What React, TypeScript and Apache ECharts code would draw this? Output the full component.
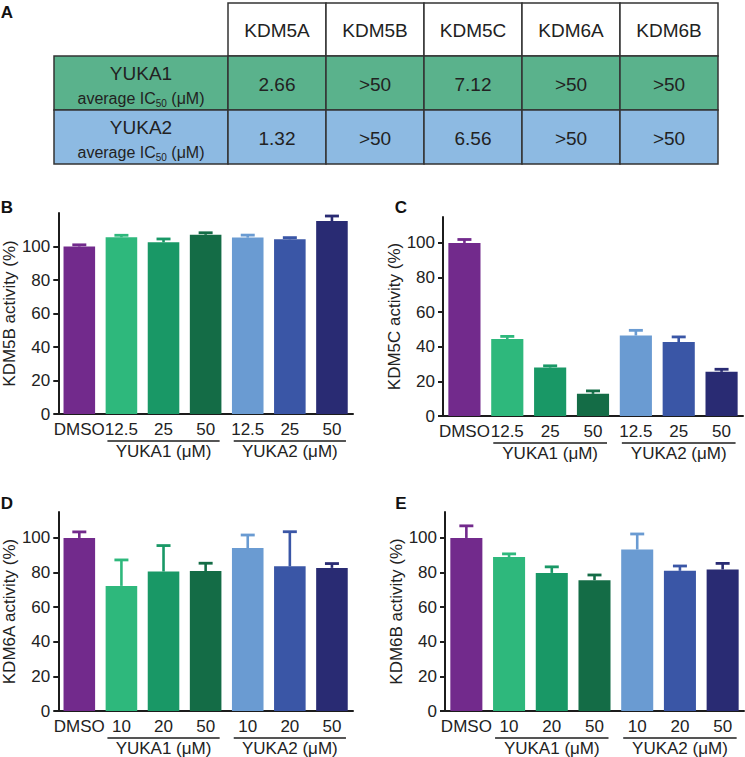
import React, { useEffect, useRef } from "react";
import * as echarts from "echarts";

// ---------- data ----------
const tableCols = ["KDM5A", "KDM5B", "KDM5C", "KDM6A", "KDM6B"];
const tableRows = ["YUKA1", "YUKA2"];
const yuka1IC50 = ["2.66", ">50", "7.12", ">50", ">50"];
const yuka2IC50 = ["1.32", ">50", "6.56", ">50", ">50"];

const catsBC = ["DMSO", "12.5", "25", "50", "12.5", "25", "50"];
const catsDE = ["DMSO", "10", "20", "50", "10", "20", "50"];
const groupNames = ["YUKA1 (μM)", "YUKA2 (μM)"];

const kdm5bMean = [100, 105.5, 102.5, 107, 105.3, 104.3, 115.2];
const kdm5bErr = [1, 1.2, 2, 1.2, 1.5, 1, 3];
const kdm5cMean = [100, 44.5, 28, 12.8, 46.5, 42.7, 25.5];
const kdm5cErr = [2, 1.5, 1, 1.7, 3, 3, 1.5];
const kdm6aMean = [100, 72.3, 80.6, 80.9, 94.2, 83.6, 82.7];
const kdm6aErr = [3.5, 15, 15, 4.5, 7.5, 20, 2.5];
const kdm6bMean = [100, 89, 79.8, 75.6, 93.3, 81, 81.8];
const kdm6bErr = [7, 1.8, 3.5, 3, 9, 2.8, 3.5];

const yTicks = [0, 20, 40, 60, 80, 100];

// ---------- styles ----------
const FONT = "'Liberation Sans', Arial, sans-serif";
const INK = "#1c1c1c";
const TXT = "#222";
const COLORS = ["#722A8C", "#2EB87C", "#199866", "#146C46", "#6A9BD2", "#3A56A6", "#292B73"];
const GREEN = "#5AB28C";
const BLUE = "#8DBAE2";
const FS = 17;

const panels = [
  { letter: "B", name: "KDM5B activity (%)", cats: catsBC, mean: kdm5bMean, err: kdm5bErr, max: 120,
    grid: { left: 53, top: 213, width: 300, height: 201 }, lx: 7, ly: 207 },
  { letter: "C", name: "KDM5C activity (%)", cats: catsBC, mean: kdm5cMean, err: kdm5cErr, max: 115,
    grid: { left: 443, top: 217, width: 300, height: 199 }, lx: 401, ly: 207 },
  { letter: "D", name: "KDM6A activity (%)", cats: catsDE, mean: kdm6aMean, err: kdm6aErr, max: 115,
    grid: { left: 53, top: 512, width: 300, height: 199 }, lx: 7, ly: 503 },
  { letter: "E", name: "KDM6B activity (%)", cats: catsDE, mean: kdm6bMean, err: kdm6bErr, max: 115,
    grid: { left: 445, top: 512, width: 299, height: 199 }, lx: 401, ly: 503 },
];

function buildOption() {
  const grid: any[] = [];
  const xAxis: any[] = [];
  const yAxis: any[] = [];
  const series: any[] = [];
  panels.forEach((p, i) => {
    grid.push({ ...p.grid, containLabel: false });
    xAxis.push({
      type: "category",
      gridIndex: i,
      data: p.cats,
      axisLine: { lineStyle: { color: INK, width: 2 } },
      axisTick: { alignWithLabel: true, length: 5, lineStyle: { color: INK, width: 2 } },
      axisLabel: { interval: 0, fontSize: FS, color: TXT, fontFamily: FONT, margin: 7, hideOverlap: false },
      splitLine: { show: false },
    });
    yAxis.push({
      type: "value",
      gridIndex: i,
      min: 0,
      max: p.max,
      interval: 20,
      axisLine: { show: true, lineStyle: { color: INK, width: 2 } },
      axisTick: { show: true, length: 5, customValues: yTicks, lineStyle: { color: INK, width: 2 } },
      axisLabel: { customValues: yTicks, fontSize: FS, color: TXT, fontFamily: FONT, margin: 8 },
      splitLine: { show: false },
      name: p.name,
      nameLocation: "middle",
      nameGap: 36,
      nameTextStyle: { fontSize: FS, color: TXT, fontFamily: FONT },
    });
    series.push({
      type: "bar",
      xAxisIndex: i,
      yAxisIndex: i,
      barWidth: "75%",
      data: p.mean.map((v, j) => ({ value: v, itemStyle: { color: COLORS[j] } })),
      z: 2,
    });
    series.push({
      type: "custom",
      xAxisIndex: i,
      yAxisIndex: i,
      z: 3,
      encode: { x: 0, y: 1 },
      data: p.mean.map((v, j) => [j, v, p.err[j]]),
      renderItem: (params: any, api: any) => {
        const idx = api.value(0);
        const m = api.value(1);
        const e = api.value(2);
        const b = api.coord([idx, m]);
        const t = api.coord([idx, m + e]);
        const c = COLORS[params.dataIndex];
        const half = 7;
        return {
          type: "group",
          children: [
            { type: "line", shape: { x1: b[0], y1: b[1], x2: t[0], y2: t[1] }, style: { stroke: c, lineWidth: 2.6 } },
            { type: "line", shape: { x1: t[0] - half, y1: t[1], x2: t[0] + half, y2: t[1] }, style: { stroke: c, lineWidth: 2.8 } },
          ],
        };
      },
    });
  });
  return { animation: false, backgroundColor: "#fff", grid, xAxis, yAxis, series };
}

function tableGraphics() {
  const g: any[] = [];
  const x0 = 228, colW = 98, hdrTop = 3, hdrH = 53, rowH = 54, lblX = 54;
  const stroke = "#333";
  const lw = 1.5;
  tableCols.forEach((c, j) => {
    g.push({ type: "rect", shape: { x: x0 + j * colW, y: hdrTop, width: colW, height: hdrH },
      style: { fill: "#fff", stroke, lineWidth: lw } });
    g.push({ type: "text", x: x0 + j * colW + colW / 2, y: hdrTop + hdrH / 2 + 1,
      style: { text: c, fill: TXT, font: `19px ${FONT}`, textAlign: "center", textVerticalAlign: "middle" } });
  });
  const rows = [yuka1IC50, yuka2IC50];
  const fills = [GREEN, BLUE];
  rows.forEach((vals, r) => {
    const y = hdrTop + hdrH + r * rowH;
    g.push({ type: "rect", shape: { x: lblX, y, width: x0 - lblX, height: rowH },
      style: { fill: fills[r], stroke, lineWidth: lw } });
    g.push({ type: "text", x: (lblX + x0) / 2, y: y + 17,
      style: { text: tableRows[r], fill: TXT, font: `19px ${FONT}`, textAlign: "center", textVerticalAlign: "middle" } });
    g.push({ type: "text", x: (lblX + x0) / 2, y: y + 42,
      style: {
        text: "{a|average IC}{s|50}{a| (μM)}",
        fill: TXT, font: `16px ${FONT}`, textAlign: "center", textVerticalAlign: "middle",
        rich: {
          a: { fontSize: 16, fontFamily: FONT, fill: TXT, lineHeight: 20, verticalAlign: "middle" },
          s: { fontSize: 10, fontFamily: FONT, fill: TXT, lineHeight: 12, verticalAlign: "bottom", padding: [3, 0, 0, 0] },
        },
      } });
    vals.forEach((v, j) => {
      g.push({ type: "rect", shape: { x: x0 + j * colW, y, width: colW, height: rowH },
        style: { fill: fills[r], stroke, lineWidth: lw } });
      g.push({ type: "text", x: x0 + j * colW + colW / 2, y: y + rowH / 2 + 1,
        style: { text: v, fill: TXT, font: `19px ${FONT}`, textAlign: "center", textVerticalAlign: "middle" } });
    });
  });
  return g;
}

export default function App() {
  const ref = useRef<HTMLDivElement>(null);
  useEffect(() => {
    if (!ref.current) return;
    const chart = echarts.init(ref.current, null, { renderer: "svg" });
    chart.setOption(buildOption());
    const graphics: any[] = [...tableGraphics()];
    graphics.push({ type: "text", x: 7, y: 12,
      style: { text: "A", fill: "#111", font: `bold 17px ${FONT}`, textAlign: "center", textVerticalAlign: "middle" } });
    panels.forEach((p, i) => {
      graphics.push({ type: "text", x: p.lx, y: p.ly,
        style: { text: p.letter, fill: "#111", font: `bold 17px ${FONT}`, textAlign: "center", textVerticalAlign: "middle" } });
      const pt = (k: number) => chart.convertToPixel({ gridIndex: i } as any, [k, 0]) as number[];
      [[1, 2, 3], [4, 5, 6]].forEach((grp, gi) => {
        const a = pt(grp[0]);
        const m = pt(grp[1]);
        const b = pt(grp[2]);
        const y0 = a[1];
        graphics.push({ type: "line", shape: { x1: a[0] - 14, y1: y0 + 27, x2: b[0] + 14, y2: y0 + 27 },
          style: { stroke: INK, lineWidth: 1.5 } });
        graphics.push({ type: "text", x: m[0], y: y0 + 37,
          style: { text: groupNames[gi], fill: TXT, font: `${FS}px ${FONT}`, textAlign: "center", textVerticalAlign: "middle" } });
      });
    });
    chart.setOption({ graphic: graphics });
    return () => chart.dispose();
  }, []);
  return (
    <div
      ref={ref}
      style={{ position: "absolute", left: 0, top: 0, width: 745, height: 757, background: "#fff" }}
    />
  );
}
